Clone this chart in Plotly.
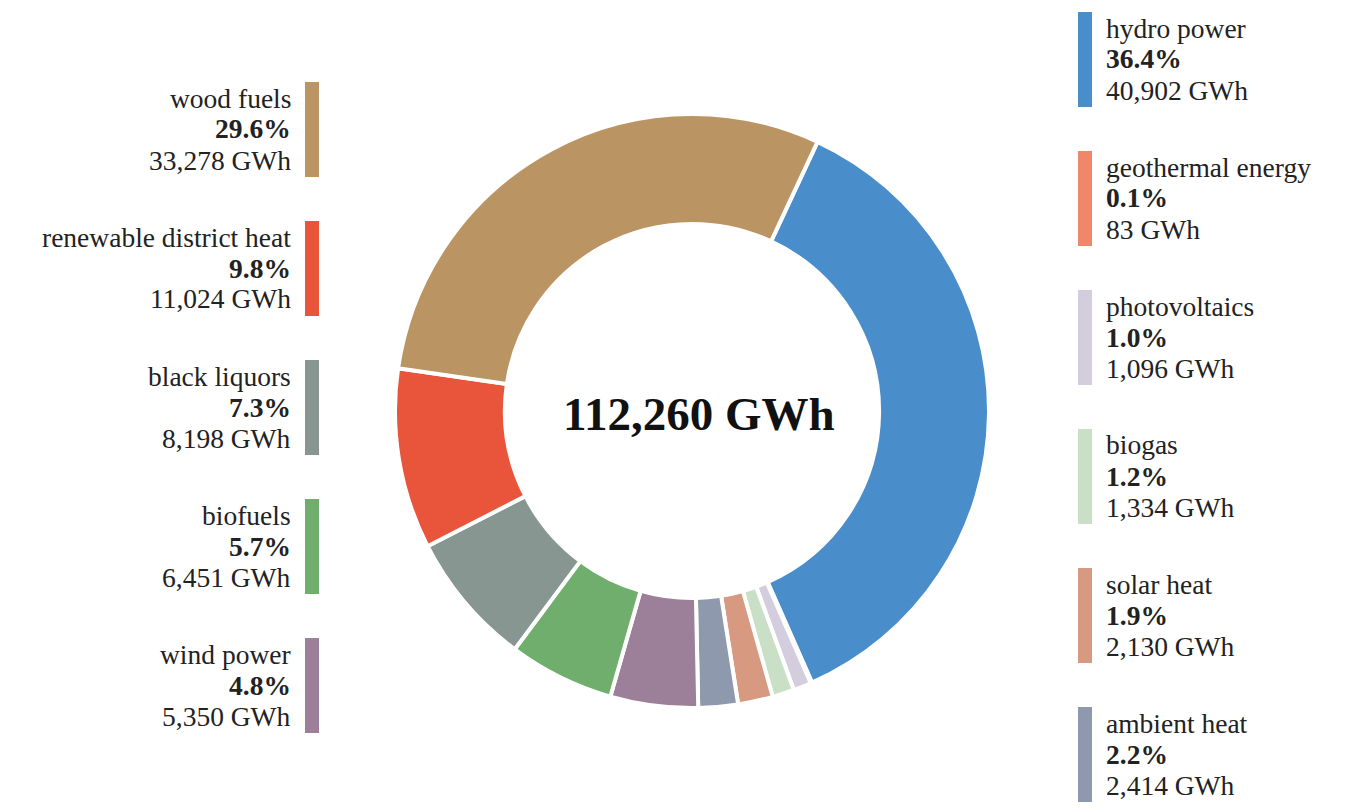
import plotly.graph_objects as go

W, H = 1347, 809

labels = ["hydro power", "geothermal energy", "photovoltaics", "biogas", "solar heat",
          "ambient heat", "wind power", "biofuels", "black liquors",
          "renewable district heat", "wood fuels"]
values_gwh = [40902, 83, 1096, 1334, 2130, 2414, 5350, 6451, 8198, 11024, 33278]
colors = ["#4a8dcb", "#f0876a", "#d3cddd", "#c9dfc6", "#d79a80",
          "#8f99ad", "#9c7f98", "#6fae6c", "#879690",
          "#e9553a", "#bb9463"]

# legend columns (top -> bottom)
right_order = ["hydro power", "geothermal energy", "photovoltaics", "biogas", "solar heat", "ambient heat"]
left_order = ["wood fuels", "renewable district heat", "black liquors", "biofuels", "wind power"]

total = sum(values_gwh)
pct = {l: 100 * v / total for l, v in zip(labels, values_gwh)}
val = dict(zip(labels, values_gwh))
col = dict(zip(labels, colors))

FONT = "Liberation Serif"
TXT = "#222222"

fig = go.Figure()
cx, cy, r = 692, 411, 297
fig.add_trace(go.Pie(
    labels=labels, values=values_gwh, sort=False, direction="clockwise",
    rotation=25, hole=0.63,
    marker=dict(colors=colors, line=dict(color="white", width=4)),
    textinfo="none", hoverinfo="label+value+percent", showlegend=False,
    domain=dict(x=[(cx - r) / W, (cx + r) / W], y=[1 - (cy + r) / H, 1 - (cy - r) / H]),
))


def px(x):
    return x / W


def py(y):
    return 1 - y / H


def entry_lines(l):
    return [l, f"<b>{pct[l]:.1f}%</b>", f"{val[l]:,} GWh"]


annotations = []
shapes = []
step = 139
offsets = [16, 47, 78]
for side, order, top0, bx0, tx, anchor in [
        ("right", right_order, 12, 1078, 1105, "left"),
        ("left", left_order, 82, 305, 292, "right")]:
    for i, l in enumerate(order):
        top = top0 + i * step
        shapes.append(dict(type="rect", xref="paper", yref="paper", x0=px(bx0), x1=px(bx0 + 14),
                           y0=py(top + 95), y1=py(top), fillcolor=col[l], line=dict(width=0)))
        for off, t in zip(offsets, entry_lines(l)):
            annotations.append(dict(xref="paper", yref="paper", x=px(tx), y=py(top + off),
                                    xanchor=anchor, yanchor="middle", align=anchor, showarrow=False,
                                    borderpad=0, text=t,
                                    font=dict(family=FONT, size=27.5, color=TXT)))

annotations.append(dict(xref="paper", yref="paper", x=px(cx + 7), y=py(414), xanchor="center",
                        yanchor="middle", showarrow=False, text=f"<b>{total:,} GWh</b>",
                        font=dict(family="Liberation Serif", size=47, color="#111111")))

fig.update_layout(width=W, height=H, margin=dict(l=0, r=0, t=0, b=0),
                  paper_bgcolor="white", plot_bgcolor="white",
                  annotations=annotations, shapes=shapes)
fig.write_html("out.html", post_script="document.body.style.margin='0px';",
               config={"displayModeBar": False})
